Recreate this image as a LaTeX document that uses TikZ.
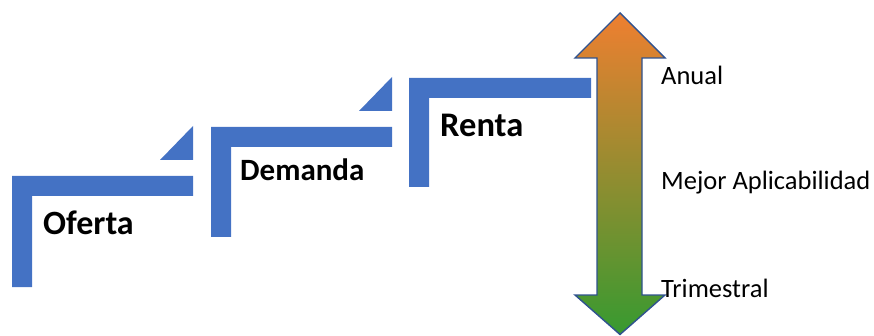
\documentclass[tikz,border=0pt]{standalone}
\usepackage{fontspec}
\setmainfont{Carlito}
\definecolor{stepblue}{HTML}{4472C4}
\definecolor{arrowline}{HTML}{2F528F}
\definecolor{toporange}{HTML}{EF7F30}
\definecolor{midolive}{HTML}{A08C33}
\definecolor{botgreen}{HTML}{379A30}
\tikzset{
  stepshape/.style={fill=stepblue, draw=none},
  steplabel/.style={inner sep=0pt, anchor=base west, font=\bfseries\fontsize{34}{37}\selectfont},
  sidelabel/.style={inner sep=0pt, anchor=base west, font=\fontsize{26.5}{30}\selectfont}
}
\begin{document}
\begin{tikzpicture}[x=1pt,y=-1pt]
\useasboundingbox (0,0) rectangle (874,336);
% Steps
\fill[stepshape] (12,176) -- (193,176) -- (193,196) -- (32,196) -- (32,287) -- (12,287) -- cycle;
\fill[stepshape] (160,160) -- (193,126) -- (193,160) -- cycle;
\fill[stepshape] (211,127) -- (392,127) -- (392,147) -- (231,147) -- (231,237) -- (211,237) -- cycle;
\fill[stepshape] (359,111) -- (392,77) -- (392,111) -- cycle;
\fill[stepshape] (409,78) -- (591,78) -- (591,98) -- (429,98) -- (429,187) -- (409,187) -- cycle;
% Labels
\node[steplabel] (oferta) at (43,235) {Oferta};
\node[steplabel, font=\bfseries\fontsize{31}{34}\selectfont] (demanda) at (240,181) {Demanda};
\node[steplabel, font=\bfseries\fontsize{34.5}{37}\selectfont] (renta) at (440,137) {Renta};
% Double arrow
\path[draw=arrowline, line width=1.4pt, line join=miter, top color=toporange, middle color=midolive, bottom color=botgreen]
  (620,13) -- (665,58) -- (642,58) -- (642,295) -- (665,295) -- (620,334.5) -- (575,295) -- (597,295) -- (597,58) -- (575,58) -- cycle;
% Side labels
\node[sidelabel] (anual) at (661,85) {Anual};
\node[sidelabel] (mejor) at (661,190) {Mejor Aplicabilidad};
\node[sidelabel] (trimestral) at (661,297) {Trimestral};
\end{tikzpicture}
\end{document}
